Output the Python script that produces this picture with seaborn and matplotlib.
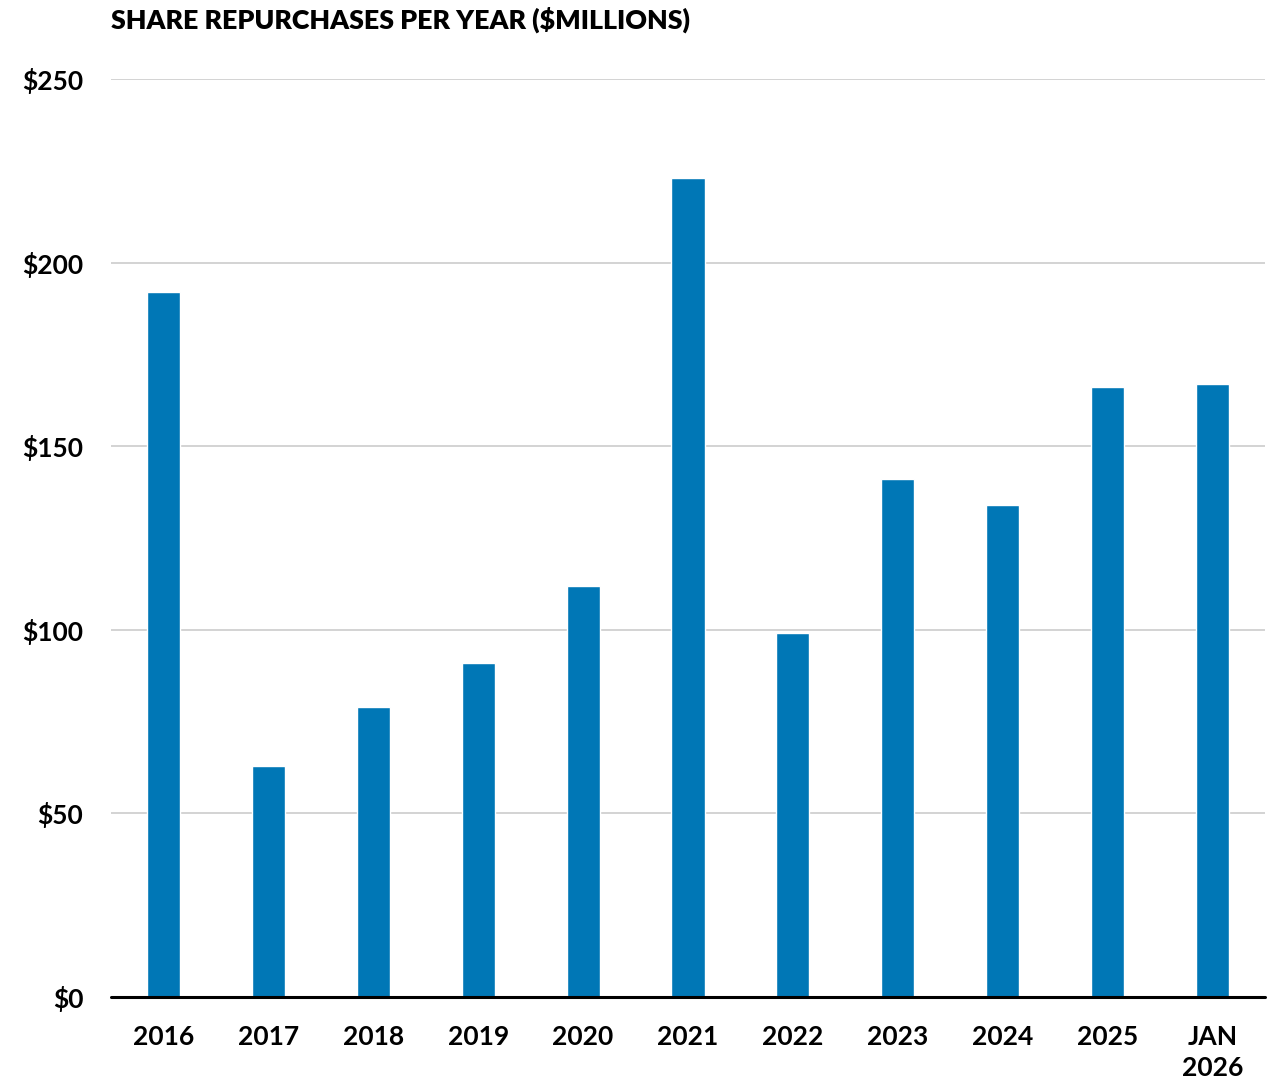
import pandas as pd
import seaborn as sns
import matplotlib.pyplot as plt

# Data
years = ["2016", "2017", "2018", "2019", "2020", "2021", "2022", "2023", "2024", "2025", "JAN\n2026"]
repurchases = [192, 63, 79, 91, 112, 223, 99, 141, 134, 166, 167]
y_ticks = [0, 50, 100, 150, 200, 250]
y_tick_labels = ["$0", "$50", "$100", "$150", "$200", "$250"]

BAR_COLOR = "#0077B6"


def main():
    sns.set_style("white")
    plt.rcParams["font.family"] = ["Lato", "DejaVu Sans"]
    plt.rcParams["text.color"] = "black"
    plt.rcParams["xtick.color"] = "black"
    plt.rcParams["ytick.color"] = "black"

    df = pd.DataFrame({"year": years, "value": repurchases})

    fig = plt.figure(figsize=(12.71, 10.81), dpi=100)
    ax = fig.add_axes([0.0873, 0.0777, 0.908, 0.8492])

    sns.barplot(data=df, x="year", y="value", color=BAR_COLOR, width=0.315,
                saturation=1, ax=ax, zorder=3)

    ax.set_xlim(-0.5, len(years) - 0.5)
    ax.set_ylim(0, 250)
    ax.set_yticks(y_ticks)
    ax.set_yticklabels(y_tick_labels)
    ax.set_xlabel("")
    ax.set_ylabel("")

    # light horizontal gridlines
    for t in y_ticks[1:]:
        ax.axhline(t, color="#cccccc", linewidth=1.2, zorder=1)
    ax.axhline(0, color="black", linewidth=2.2, zorder=4, clip_on=False)

    for s in ["top", "right", "left", "bottom"]:
        ax.spines[s].set_visible(False)

    ax.tick_params(axis="y", length=0, pad=20, labelsize=19, labelcolor="black")
    ax.tick_params(axis="x", length=0, pad=20, labelsize=19, labelcolor="black")
    for lbl in ax.get_yticklabels() + ax.get_xticklabels():
        lbl.set_fontweight("bold")
        lbl.set_linespacing(1.35)

    fig.text(0.0873, 0.994, "SHARE REPURCHASES PER YEAR ($MILLIONS)",
             fontsize=19.3, fontweight="heavy", ha="left", va="top", color="black")

    fig.savefig("out.png", dpi=100)


if __name__ == "__main__":
    main()
